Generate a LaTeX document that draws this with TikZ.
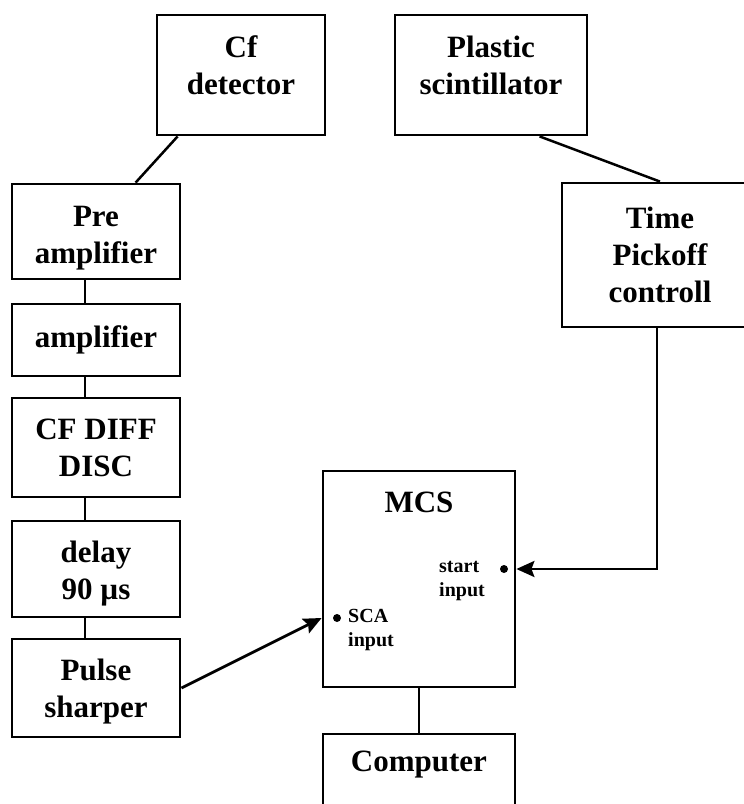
\documentclass[tikz,border=0pt]{standalone}
\usepackage{fontspec}
\setmainfont{Liberation Serif}
\usetikzlibrary{arrows.meta,calc}
\begin{document}
\begin{tikzpicture}[x=1pt,y=-1pt,
  box/.style={draw, line width=2.8pt, rectangle, inner sep=0pt, align=center,
    font=\bfseries\fontsize{31}{37}\selectfont},
  txt/.style={inner sep=0pt, align=center, font=\bfseries\fontsize{31}{37}\selectfont},
  small/.style={inner sep=0pt, align=left, font=\bfseries\fontsize{20}{24}\selectfont},
  dot/.style={circle, fill=black, inner sep=0pt, minimum size=8pt},
  wire/.style={line width=2.5pt},
  arr/.style={line width=2.8pt, -{Stealth[length=18pt,width=16pt,inset=3pt]}}
]
\useasboundingbox (0,0) rectangle (744,804);
\clip (0,0) rectangle (744,804);
\fill[white] (0,0) rectangle (744,804);

% top boxes
\node[box, minimum width=168pt, minimum height=120pt] (cf) at (241,75) {};
\node[txt] (cft) at (241,65) {Cf\\detector};
\node[box, minimum width=192pt, minimum height=120pt] (ps) at (491,75) {};
\node[txt] (pst) at (491,65) {Plastic\\scintillator};

% left column
\node[box, minimum width=168pt, minimum height=95pt] (pre) at (96,231.5) {};
\node[txt] (pret) at (96,238) {Pre\\amplifier};
\node[box, minimum width=168pt, minimum height=72pt] (amp) at (96,340) {amplifier};
\node[box, minimum width=168pt, minimum height=99pt] (cfd) at (96,447.5) {CF DIFF\\DISC};
\node[box, minimum width=168pt, minimum height=96pt] (del) at (96,569) {};
\node[txt] (delt) at (96,574) {delay\\90 µs};
\node[box, minimum width=168pt, minimum height=98pt] (pul) at (96,688) {};
\node[txt] (pult) at (96,692) {Pulse\\sharper};

% right
\node[box, minimum width=196pt, minimum height=144pt] (tpc) at (660,255) {Time\\Pickoff\\controll};

% MCS
\node[box, minimum width=192pt, minimum height=216pt] (mcs) at (419,579) {};
\node[txt] (mcst) at (419,502) {MCS};
\node[small, anchor=west] (st) at (439,581) {start\\input};
\node[small, anchor=west] (sca) at (348,630) {SCA\\input};
\node[dot] (d1) at (504,569) {};
\node[dot] (d2) at (337,618) {};

% Computer
\node[box, minimum width=192pt, minimum height=100pt] (comp) at (419,784) {};
\node[txt] (compt) at (419,765) {Computer};

% connectors
\draw[wire] ([xshift=22pt]cf.south west) -- ([xshift=125pt]pre.north west);
\draw[wire] ([xshift=146pt]ps.south west) -- (tpc.north);
\draw[wire] ([xshift=-11pt]pre.south) -- ([xshift=-11pt]amp.north);
\draw[wire] ([xshift=-11pt]amp.south) -- ([xshift=-11pt]cfd.north);
\draw[wire] ([xshift=-11pt]cfd.south) -- ([xshift=-11pt]del.north);
\draw[wire] ([xshift=-11pt]del.south) -- ([xshift=-11pt]pul.north);
\draw[wire] (mcs.south) -- (comp.north);
\draw[arr] (pul.east) -- ([yshift=-39pt]mcs.west);
\draw[arr] ([xshift=-3pt]tpc.south) |- ([yshift=10pt]mcs.east);
\end{tikzpicture}
\end{document}
